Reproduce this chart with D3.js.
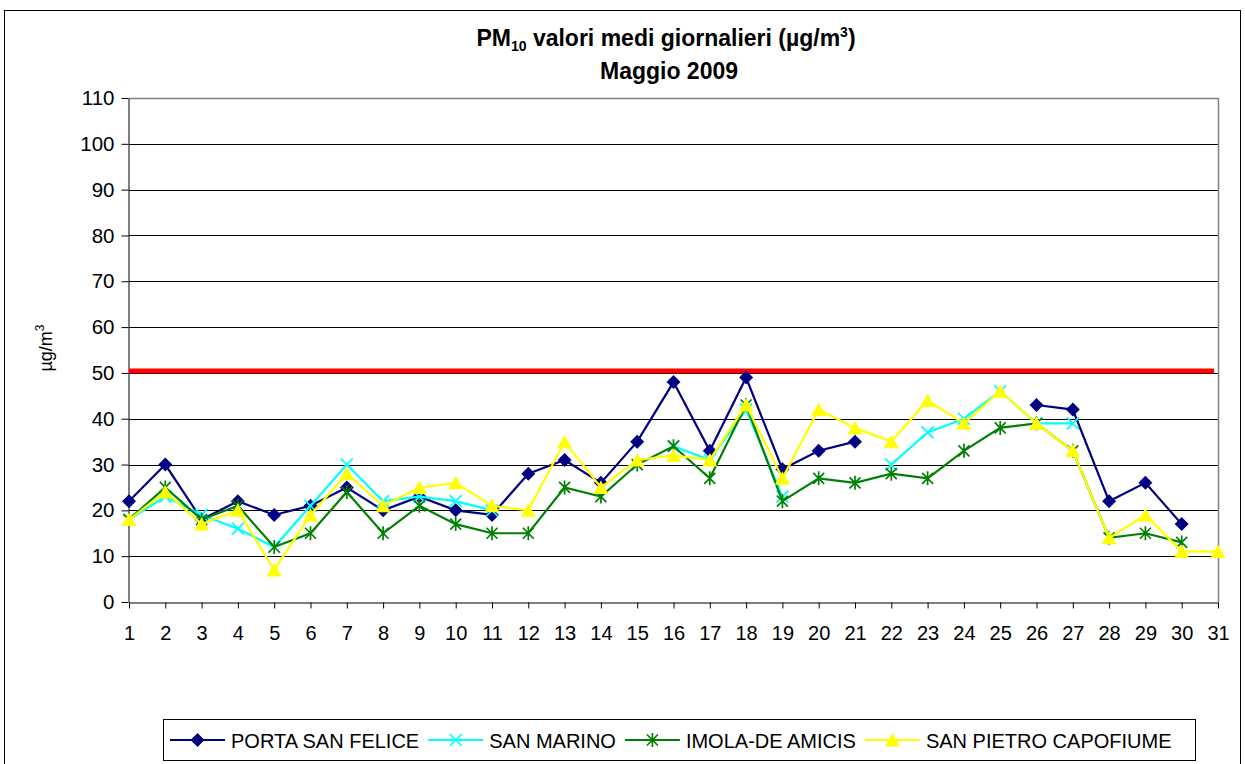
<!DOCTYPE html>
<html>
<head>
<meta charset="utf-8">
<script src="https://cdn.jsdelivr.net/npm/d3@7/dist/d3.min.js"></script>
<style>
  body { margin: 0; background: #fff; }
  svg { display: block; font-family: "Liberation Sans", Arial, sans-serif; }
</style>
</head>
<body>
<script>
// data (Maggio 2009, PM10 daily means)
var days = d3.range(1, 32);
var portaSanFelice = [22,30,18,22,19,21,25,20,23,20,19,28,31,26,35,48,33,49,29,33,35,null,null,null,null,43,42,22,26,17,null];
var sanMarino = [18,23,19,16,12,21,30,22,23,22,20,null,null,null,null,34,31,42,23,null,null,30,37,40,46,39,39,null,null,null,null];
var imolaDeAmicis = [18,25,18,21,12,15,24,15,21,17,15,15,25,23,30,34,27,43,22,27,26,28,27,33,38,39,33,14,15,13,null];
var sanPietroCapofiume = [18,24,17,20,7,19,28,21,25,26,21,20,35,25,31,32,31,43,27,42,38,35,44,39,46,39,33,14,19,11,11];
var seriesNames = ["PORTA SAN FELICE", "SAN MARINO", "IMOLA-DE AMICIS", "SAN PIETRO CAPOFIUME"];
var limitValue = 50;
var yTicks = d3.range(0, 111, 10);

(function () {
  var width = 1245, height = 764;
  var pLeft = 129, pRight = 1218, pTop = 98, pBottom = 602;

  var svg = d3.select("body").append("svg")
    .attr("width", width)
    .attr("height", height);

  // outer chart frame
  svg.append("rect")
    .attr("x", 4.5).attr("y", 10.5)
    .attr("width", 1236).attr("height", 800)
    .attr("fill", "none").attr("stroke", "#000").attr("stroke-width", 1);

  var x = d3.scaleLinear().domain([1, 31]).range([pLeft, pRight]);
  var y = d3.scaleLinear().domain([0, 110]).range([pBottom, pTop]);

  // gridlines
  svg.append("g").selectAll("line")
    .data(yTicks.filter(d => d > 0 && d < 110))
    .enter().append("line")
      .attr("x1", pLeft).attr("x2", pRight)
      .attr("y1", d => Math.round(y(d)) + 0.5).attr("y2", d => Math.round(y(d)) + 0.5)
      .attr("stroke", "#000").attr("stroke-width", 1);

  // plot border top/right (grey)
  svg.append("path")
    .attr("d", "M" + pLeft + "," + (pTop + 0.5) + "H" + (pRight + 0.5) + "V" + pBottom)
    .attr("fill", "none").attr("stroke", "#808080").attr("stroke-width", 1.5);

  // axes
  var yAxis = svg.append("g")
    .attr("transform", "translate(" + (pLeft - 0.5) + ",0)")
    .call(d3.axisLeft(y).tickValues(yTicks).tickSize(7).tickSizeOuter(0).tickPadding(7));
  yAxis.attr("font-family", null).attr("font-size", null);
  yAxis.selectAll("text").attr("font-size", 20.5).attr("fill", "#000");
  yAxis.selectAll("line, path").attr("stroke", "#000");

  var xAxis = svg.append("g")
    .attr("transform", "translate(0," + (pBottom + 0.5) + ")")
    .call(d3.axisBottom(x).tickValues(days).tickFormat(d3.format("d")).tickSize(6).tickSizeOuter(0).tickPadding(17));
  xAxis.attr("font-family", null).attr("font-size", null);
  xAxis.selectAll("text").attr("font-size", 20).attr("fill", "#000");
  xAxis.selectAll("line, path").attr("stroke", "#000");

  // y title
  var yTitle = svg.append("text")
    .attr("transform", "translate(52,348) rotate(-90)")
    .attr("text-anchor", "middle")
    .attr("font-size", 18);
  yTitle.append("tspan").text("µg/m");
  yTitle.append("tspan").attr("font-size", 12).attr("dy", -8).text("3");

  // title
  var t1 = svg.append("text")
    .attr("x", 666).attr("y", 46)
    .attr("text-anchor", "middle")
    .attr("font-size", 23).attr("font-weight", "bold");
  t1.append("tspan").text("PM");
  t1.append("tspan").attr("font-size", 14).attr("dy", 5).text("10");
  t1.append("tspan").attr("dy", -5).text(" valori medi giornalieri (µg/m");
  t1.append("tspan").attr("font-size", 14).attr("dy", -9).text("3");
  t1.append("tspan").attr("dy", 9).text(")");

  svg.append("text")
    .attr("x", 669).attr("y", 79)
    .attr("text-anchor", "middle")
    .attr("font-size", 23).attr("font-weight", "bold")
    .text("Maggio 2009");

  // limit line
  svg.append("line")
    .attr("x1", pLeft).attr("x2", 1214)
    .attr("y1", y(limitValue) - 2).attr("y2", y(limitValue) - 2)
    .attr("stroke", "#ff0000").attr("stroke-width", 5);

  // markers
  function marker(g, kind, color) {
    if (kind == "diamond") {
      g.append("path").attr("d", "M0,-7L7,0L0,7L-7,0Z").attr("fill", color);
    } else if (kind == "x") {
      g.append("path").attr("d", "M-6,-6L6,6M-6,6L6,-6").attr("stroke", color).attr("stroke-width", 1.7).attr("fill", "none");
    } else if (kind == "star") {
      g.append("path").attr("d", "M-5.5,-5.5L5.5,5.5M-5.5,5.5L5.5,-5.5M0,-7V7").attr("stroke", color).attr("stroke-width", 1.7).attr("fill", "none");
    } else {
      g.append("path").attr("d", "M0,-7L7.5,6.5L-7.5,6.5Z").attr("fill", color);
    }
  }

  var series = [
    { name: seriesNames[0], values: portaSanFelice, color: "#000080", kind: "diamond" },
    { name: seriesNames[1], values: sanMarino, color: "#00ffff", kind: "x" },
    { name: seriesNames[2], values: imolaDeAmicis, color: "#008000", kind: "star" },
    { name: seriesNames[3], values: sanPietroCapofiume, color: "#ffff00", kind: "triangle" }
  ];

  var line = d3.line()
    .defined(d => d.v != null)
    .x(d => x(d.day))
    .y(d => y(d.v));

  series.forEach(function (s) {
    var pts = days.map((d, i) => ({ day: d, v: s.values[i] }));
    var g = svg.append("g");
    g.append("path")
      .attr("d", line(pts))
      .attr("fill", "none")
      .attr("stroke", s.color)
      .attr("stroke-width", 2.2);
    g.selectAll("g.m")
      .data(pts.filter(p => p.v != null))
      .enter().append("g")
        .attr("class", "m")
        .attr("transform", p => "translate(" + x(p.day) + "," + y(p.v) + ")")
        .each(function () { marker(d3.select(this), s.kind, s.color); });
  });

  // legend
  var legend = svg.append("g");
  legend.append("rect")
    .attr("x", 163.5).attr("y", 719.5)
    .attr("width", 1032).attr("height", 41)
    .attr("fill", "#fff").attr("stroke", "#000").attr("stroke-width", 1);

  var lx = 170;
  series.forEach(function (s) {
    var g = legend.append("g").attr("transform", "translate(" + lx + ",740)");
    g.append("line").attr("x1", 0).attr("x2", 55).attr("stroke", s.color).attr("stroke-width", 2);
    var m = g.append("g").attr("transform", "translate(27.5,0)");
    marker(m, s.kind, s.color);
    var txt = g.append("text")
      .attr("x", 61).attr("y", 7.5)
      .attr("font-size", 20)
      .text(s.name);
    lx += 61 + txt.node().getComputedTextLength() + 9;
  });
})();
</script>
</body>
</html>
